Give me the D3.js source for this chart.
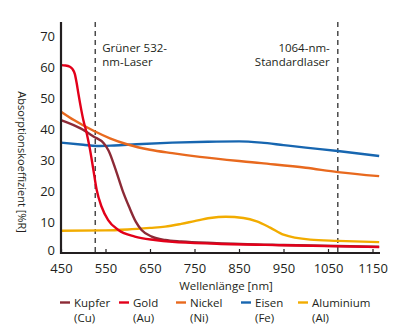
<!DOCTYPE html>
<html>
<head>
<meta charset="utf-8">
<script src="https://cdn.jsdelivr.net/npm/d3@7"></script>
<style>
  body { margin: 0; background: #fff; }
  text { font-family: "Open Sans", "Liberation Sans", sans-serif; fill: #231f20; }
</style>
</head>
<body>
<div id="chart"></div>
<script>
// values: [wavelength nm, absorption %R]
var kupfer = [[450,42.9],[494,40.2],[524,37.5],[546,35.4],[557,33],[573,26.8],[588,20.3],[603,14.9],[618,10.1],[631,7.4],[654,5.3],[684,4.2],[720,3.7],[800,3.2],[950,2.6],[1165,2.0]];
var gold = [[450,60.6],[460,60.5],[470,60.1],[476,59.3],[481,57.8],[485,55],[489,51.5],[500,43],[508,38.5],[515,33.5],[522,27.5],[530,20.5],[541,15],[556,10.6],[579,7.4],[616,5.3],[661,4.2],[700,3.6],[800,3.0],[950,2.5],[1165,1.9]];
var nickel = [[450,45.6],[480,42.8],[522,39.5],[560,37],[600,35],[650,33.3],[700,32.2],[762,31],[900,29],[1000,27.5],[1072,26.1],[1165,24.8]];
var eisen = [[450,35.6],[500,34.9],[530,34.5],[570,34.7],[620,35.1],[700,35.6],[780,35.9],[850,36],[900,35.6],[950,34.8],[1000,34],[1072,32.9],[1165,31.3]];
var aluminium = [[450,7.2],[550,7.3],[600,7.6],[650,8.1],[684,8.5],[720,9.4],[750,10.3],[785,11.3],[820,11.7],[860,11.3],[890,10.2],[920,8.2],[950,5.9],[1010,4.3],[1072,3.9],[1165,3.5]];

var serien = ["Kupfer", "Gold", "Nickel", "Eisen", "Aluminium"];
var kuerzel = ["(Cu)", "(Au)", "(Ni)", "(Fe)", "(Al)"];
var farben = ["#8c2a36", "#e2001a", "#e8691e", "#1766b0", "#f2ac00"];
var werte = [kupfer, gold, nickel, eisen, aluminium];

var xTicks = [450, 550, 650, 750, 850, 950, 1050, 1150];
var yTicks = [0, 10, 20, 30, 40, 50, 60, 70];
var laser = [527, 1072];
var laserText = [["Grüner 532-", "nm-Laser"], ["1064-nm-", "Standardlaser"]];

var svgWidth = 400, svgHeight = 332;

var svg = d3.select("#chart").append("svg")
  .attr("width", svgWidth)
  .attr("height", svgHeight);

var x = d3.scaleLinear().domain([450, 1150]).range([61, 372.5]);
var y = d3.scaleLinear().domain([0, 70]).range([253, 36]);

// laser markers
laser.forEach(function(l) {
  svg.append("line")
    .attr("x1", x(l)).attr("x2", x(l))
    .attr("y1", 22).attr("y2", 253)
    .attr("stroke", "#4a4a4a")
    .attr("stroke-width", 1.5)
    .attr("stroke-dasharray", "5,4");
});

svg.append("text").attr("x", x(laser[0]) + 7).attr("y", 52)
  .style("font-size", "11.5px").text(laserText[0][0]);
svg.append("text").attr("x", x(laser[0]) + 7).attr("y", 66)
  .style("font-size", "11.5px").text(laserText[0][1]);
svg.append("text").attr("x", x(laser[1]) - 8).attr("y", 52)
  .attr("text-anchor", "end").style("font-size", "11.5px").text(laserText[1][0]);
svg.append("text").attr("x", x(laser[1]) - 8).attr("y", 66)
  .attr("text-anchor", "end").style("font-size", "11.5px").text(laserText[1][1]);

// curves
var line = d3.line()
  .x(d => x(d[0]))
  .y(d => y(d[1]))
  .curve(d3.curveMonotoneX);

var order = [4, 3, 2, 0, 1];
order.forEach(function(i) {
  svg.append("path")
    .datum(werte[i])
    .attr("fill", "none")
    .attr("stroke", farben[i])
    .attr("stroke-width", 2.4)
    .attr("d", line);
});

// axes
var xAxis = svg.append("g")
  .attr("transform", "translate(0,253)")
  .call(d3.axisBottom(x).tickValues(xTicks).tickFormat(d3.format("d")).tickSize(-4).tickPadding(11));
xAxis.select(".domain").remove();
xAxis.selectAll("line").attr("stroke", "#231f20").attr("stroke-width", 1.2);
xAxis.selectAll("text").style("font-size", "13px").attr("fill", "#231f20");

svg.append("line").attr("x1", 61).attr("x2", 380).attr("y1", 253).attr("y2", 253)
  .attr("stroke", "#231f20").attr("stroke-width", 2.2);

var yAxis = svg.append("g")
  .attr("transform", "translate(61,0)")
  .call(d3.axisLeft(y).tickValues(yTicks).tickSize(0).tickPadding(6));
yAxis.select(".domain").remove();
yAxis.selectAll("text").style("font-size", "13px").attr("fill", "#231f20");
// keep the "0" clear of the "450" below it
yAxis.selectAll("text").filter(d => d === 0).attr("y", -2.5);

svg.append("line").attr("x1", 61).attr("x2", 61).attr("y1", 22).attr("y2", 254)
  .attr("stroke", "#231f20").attr("stroke-width", 2.2);

// axis titles
svg.append("text")
  .attr("transform", "translate(18,162) rotate(90)")
  .attr("text-anchor", "middle")
  .style("font-size", "11px")
  .text("Absorptionskoeffizient [%R]");

svg.append("text")
  .attr("x", 226).attr("y", 289.5)
  .attr("text-anchor", "middle")
  .style("font-size", "11.5px")
  .text("Wellenlänge [nm]");

// legend
var legX = [60, 119, 176, 241, 298];
serien.forEach(function(s, i) {
  svg.append("line")
    .attr("x1", legX[i]).attr("x2", legX[i] + 10)
    .attr("y1", 302.5).attr("y2", 302.5)
    .attr("stroke", farben[i]).attr("stroke-width", 2.4);
  svg.append("text").attr("x", legX[i] + 14).attr("y", 306.5)
    .style("font-size", "11.5px").text(s);
  svg.append("text").attr("x", legX[i] + 14).attr("y", 321.5)
    .style("font-size", "11.5px").text(kuerzel[i]);
});
</script>
</body>
</html>
